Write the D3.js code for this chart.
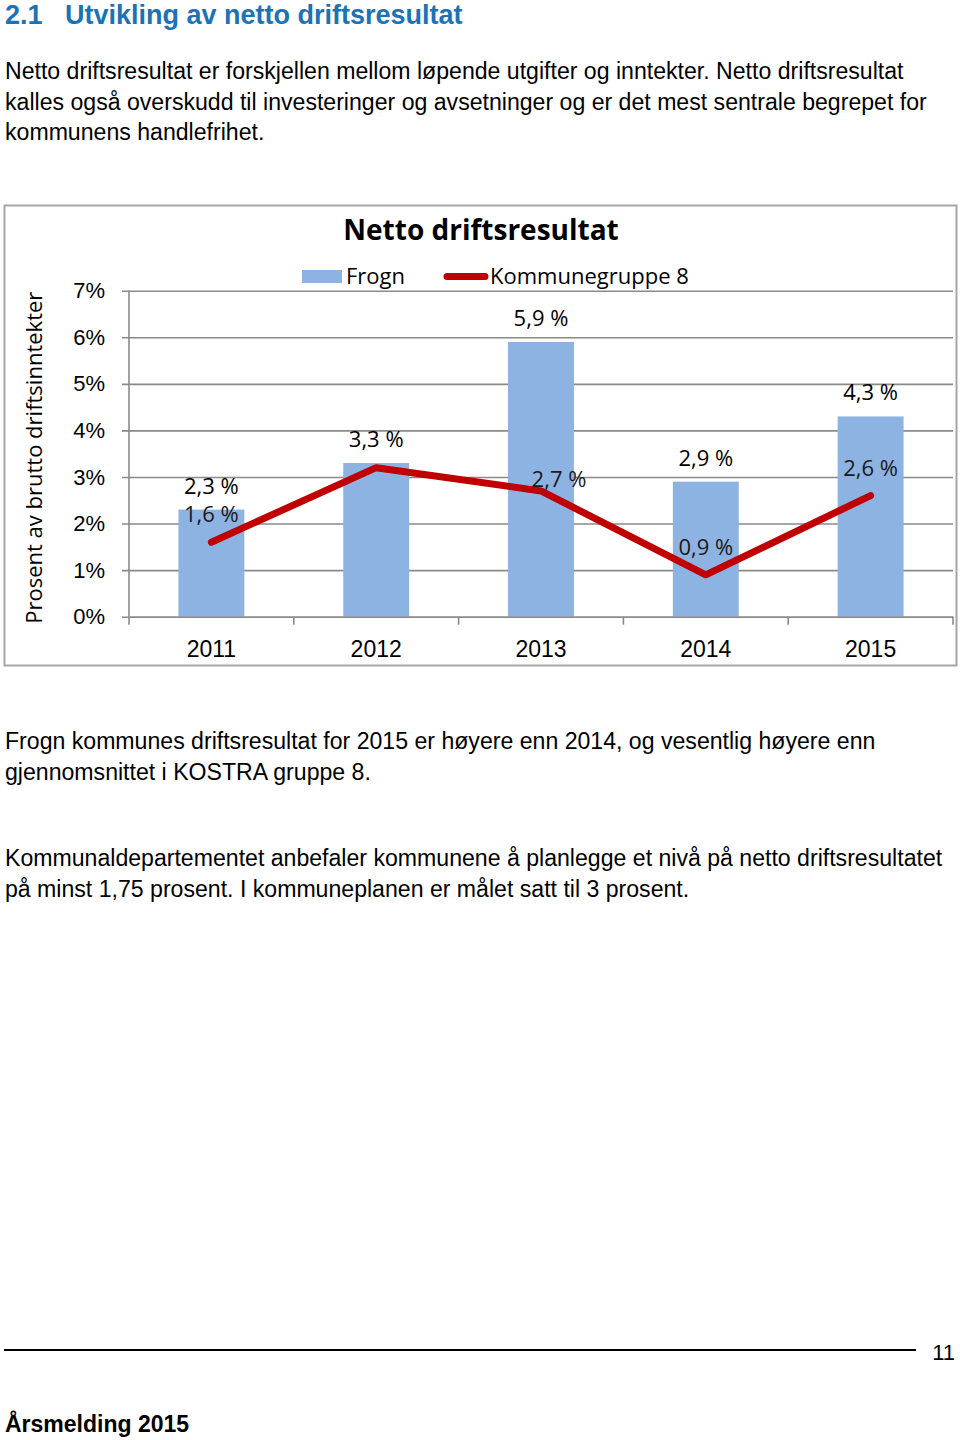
<!DOCTYPE html>
<html>
<head>
<meta charset="utf-8">
<script src="https://cdn.jsdelivr.net/npm/d3@7"></script>
<style>
  body { margin: 0; background: #fff; }
  svg text { fill: #000; }
</style>
</head>
<body>
<div id="page"></div>
<script>
// data
const years = ["2011", "2012", "2013", "2014", "2015"];
const frogn = [2.3, 3.3, 5.9, 2.9, 4.3];
const kommunegruppe8 = [1.6, 3.2, 2.7, 0.9, 2.6];
const showLineLabel = [true, false, true, true, true];
const yTicks = [0, 1, 2, 3, 4, 5, 6, 7];

const heading = ["2.1", "Utvikling av netto driftsresultat"];
const intro = [
  "Netto driftsresultat er forskjellen mellom løpende utgifter og inntekter. Netto driftsresultat",
  "kalles også overskudd til investeringer og avsetninger og er det mest sentrale begrepet for",
  "kommunens handlefrihet."
];
const para2 = [
  "Frogn kommunes driftsresultat for 2015 er høyere enn 2014, og vesentlig høyere enn",
  "gjennomsnittet i KOSTRA gruppe 8."
];
const para3 = [
  "Kommunaldepartementet anbefaler kommunene å planlegge et nivå på netto driftsresultatet",
  "på minst 1,75 prosent. I kommuneplanen er målet satt til 3 prosent."
];

const fmt = v => d3.format(".1f")(v).replace(".", ",") + " %";

const W = 960, H = 1440;
const bodyFont = "'Liberation Sans', Arial, sans-serif";
const chartFont = "'Open Sans', Lato, sans-serif";
const chartSize = "22px";
const barColor = "#8db3e2";
const lineColor = "#c00000";
const gridColor = "#8a8a8a";

const svg = d3.select("#page").append("svg")
  .attr("width", W)
  .attr("height", H);

// heading
const h = svg.append("text")
  .attr("x", 5).attr("y", 24)
  .style("font-family", bodyFont)
  .style("font-weight", "bold")
  .style("font-size", "27px")
  .style("fill", "#1b72b4");
h.append("tspan").text(heading[0]);
h.append("tspan").attr("x", 65).text(heading[1]);

function paragraph(lines, y0) {
  svg.append("g").selectAll("text")
    .data(lines)
    .join("text")
    .attr("x", 5)
    .attr("y", (d, i) => y0 + i * 30.5)
    .style("font-family", bodyFont)
    .style("font-size", "23.1px")
    .text(d => d);
}
paragraph(intro, 79);
paragraph(para2, 749);
paragraph(para3, 866);

// chart frame
svg.append("rect")
  .attr("x", 4.5).attr("y", 205.5)
  .attr("width", 952).attr("height", 460)
  .attr("fill", "#fff")
  .attr("stroke", "#a6a6a6")
  .attr("stroke-width", 2);

svg.append("text")
  .attr("x", 481).attr("y", 240)
  .attr("text-anchor", "middle")
  .style("font-family", chartFont)
  .style("font-weight", "bold")
  .style("font-size", "28px")
  .text("Netto driftsresultat");

// legend
const legend = svg.append("g").style("font-family", chartFont).style("font-size", chartSize);
legend.append("rect")
  .attr("x", 302).attr("y", 270).attr("width", 40).attr("height", 13)
  .attr("fill", barColor);
legend.append("text").attr("x", 346).attr("y", 284).text("Frogn");
legend.append("line")
  .attr("x1", 447).attr("x2", 485).attr("y1", 276.5).attr("y2", 276.5)
  .attr("stroke", lineColor).attr("stroke-width", 7).attr("stroke-linecap", "round");
legend.append("text").attr("x", 490).attr("y", 284).text("Kommunegruppe 8");

// scales
const plot = { left: 129, right: 953, top: 290.7, bottom: 616.7 };
const x = d3.scaleBand()
  .domain(years)
  .range([plot.left, plot.right])
  .paddingInner(0.6)
  .paddingOuter(0.3);
const y = d3.scaleLinear()
  .domain([0, 7])
  .range([plot.bottom, plot.top]);

const chart = svg.append("g").style("font-family", chartFont);

// gridlines + y axis
const yAxisG = chart.append("g")
  .attr("transform", `translate(${plot.left},0)`)
  .call(d3.axisLeft(y)
    .tickValues(yTicks)
    .tickSize(-(plot.right - plot.left))
    .tickSizeOuter(0)
    .tickPadding(24)
    .tickFormat(d => d + "%"));
yAxisG.select(".domain").remove();
yAxisG.selectAll(".tick line")
  .attr("x1", -7)
  .attr("stroke", gridColor)
  .attr("stroke-width", 1.6);
yAxisG.selectAll(".tick text")
  .style("font-size", chartSize)
  .style("fill", "#000");
chart.append("line")
  .attr("x1", plot.left).attr("x2", plot.left)
  .attr("y1", plot.top).attr("y2", plot.bottom)
  .attr("stroke", gridColor).attr("stroke-width", 1.6);

// y title
chart.append("text")
  .attr("transform", `translate(42,${(plot.top + plot.bottom) / 2 + 4}) rotate(-90)`)
  .attr("text-anchor", "middle")
  .style("font-size", chartSize)
  .text("Prosent av brutto driftsinntekter");

// bars
chart.append("g").selectAll("rect")
  .data(frogn)
  .join("rect")
  .attr("x", (d, i) => x(years[i]))
  .attr("y", d => y(d))
  .attr("width", x.bandwidth())
  .attr("height", d => y(0) - y(d))
  .attr("fill", barColor);

// x axis
const xAxisG = chart.append("g")
  .attr("transform", `translate(0,${plot.bottom})`)
  .call(d3.axisBottom(x).tickSize(0).tickPadding(24));
xAxisG.select(".domain")
  .attr("stroke", gridColor).attr("stroke-width", 1.6);
xAxisG.selectAll(".tick text")
  .style("font-size", "23px")
  .style("fill", "#000");
const bounds = d3.range(years.length + 1).map(i => plot.left + i * x.step());
xAxisG.selectAll(".bound")
  .data(bounds)
  .join("line")
  .attr("class", "bound")
  .attr("x1", d => d).attr("x2", d => d)
  .attr("y1", 0).attr("y2", 8)
  .attr("stroke", gridColor).attr("stroke-width", 1.6);

// line
const cx = i => x(years[i]) + x.bandwidth() / 2;
const line = d3.line()
  .x((d, i) => cx(i))
  .y(d => y(d));
chart.append("path")
  .datum(kommunegruppe8)
  .attr("d", line)
  .attr("fill", "none")
  .attr("stroke", lineColor)
  .attr("stroke-width", 7)
  .attr("stroke-linejoin", "round")
  .attr("stroke-linecap", "round");

// data labels
chart.append("g").selectAll("text")
  .data(frogn)
  .join("text")
  .attr("x", (d, i) => cx(i))
  .attr("y", d => y(d) - 16)
  .attr("text-anchor", "middle")
  .style("font-size", chartSize)
  .text(d => fmt(d));

// line labels (2013 label was nudged right in the original)
const nudge = { 2: [18, 16] };
chart.append("g").selectAll("text")
  .data(kommunegruppe8.map((v, i) => ({ v, i })).filter(d => showLineLabel[d.i]))
  .join("text")
  .attr("x", d => cx(d.i) + (nudge[d.i] ? nudge[d.i][0] : 0))
  .attr("y", d => y(d.v) - 20 + (nudge[d.i] ? nudge[d.i][1] : 0))
  .attr("text-anchor", "middle")
  .style("font-size", chartSize)
  .style("fill", "#1a1a1a")
  .text(d => fmt(d.v));

// footer
svg.append("line")
  .attr("x1", 4).attr("x2", 916)
  .attr("y1", 1350).attr("y2", 1350)
  .attr("stroke", "#000").attr("stroke-width", 2);
svg.append("text")
  .attr("x", 955).attr("y", 1360)
  .attr("text-anchor", "end")
  .style("font-family", "'Liberation Sans Narrow', 'Liberation Sans', sans-serif")
  .style("font-size", "22px")
  .text("11");
svg.append("text")
  .attr("x", 5).attr("y", 1432)
  .style("font-family", "'Liberation Sans Narrow', 'Liberation Sans', sans-serif")
  .style("font-weight", "bold")
  .style("font-size", "23px")
  .text("Årsmelding 2015");
</script>
</body>
</html>
